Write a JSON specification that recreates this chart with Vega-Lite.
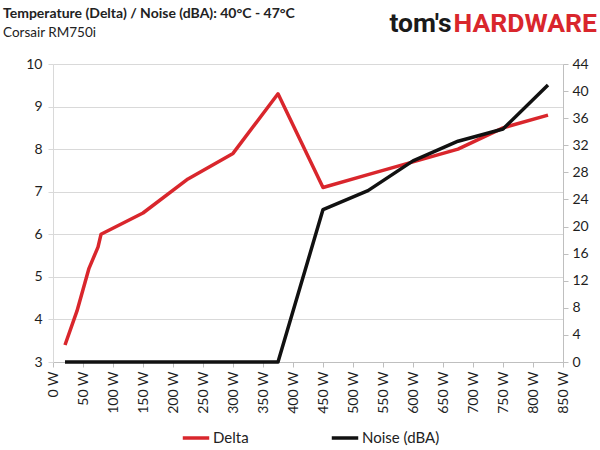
{
  "$schema": "https://vega.github.io/schema/vega-lite/v6.json",
  "autosize": {"type": "none"},
  "width": 510,
  "height": 298,
  "padding": {"left": 53, "top": 64, "right": 37, "bottom": 88},
  "background": "white",
  "config": {
    "font": "Lato",
    "view": {"stroke": null},
    "axis": {"labelFontSize": 14, "labelColor": "#1e1e1e", "labelFont": "Lato"}
  },
  "title": {
    "text": "Temperature (Delta) / Noise (dBA): 40°C - 47°C",
    "subtitle": "Corsair RM750i",
    "anchor": "start",
    "frame": "group",
    "dx": -50,
    "dy": 47,
    "offset": 18,
    "font": "Lato",
    "fontSize": 14,
    "fontWeight": "bold",
    "color": "#222222",
    "subtitleFont": "Lato",
    "subtitleFontSize": 13.5,
    "subtitleColor": "#222222",
    "subtitlePadding": 5
  },
  "data": {
    "values": [
      {"watts": 20, "delta": 3.4, "noise": 0},
      {"watts": 40, "delta": 4.2, "noise": 0},
      {"watts": 60, "delta": 5.2, "noise": 0},
      {"watts": 75, "delta": 5.7, "noise": 0},
      {"watts": 80, "delta": 6.0, "noise": 0},
      {"watts": 150, "delta": 6.5, "noise": 0},
      {"watts": 225, "delta": 7.3, "noise": 0},
      {"watts": 300, "delta": 7.9, "noise": 0},
      {"watts": 375, "delta": 9.3, "noise": 0},
      {"watts": 450, "delta": 7.1, "noise": 22.5},
      {"watts": 525, "delta": 7.4, "noise": 25.3},
      {"watts": 600, "delta": 7.7, "noise": 29.7},
      {"watts": 675, "delta": 8.0, "noise": 32.6},
      {"watts": 750, "delta": 8.5, "noise": 34.4},
      {"watts": 825, "delta": 8.8, "noise": 40.9}
    ]
  },
  "encoding": {
    "x": {
      "field": "watts",
      "type": "quantitative",
      "title": null,
      "scale": {"domain": [0, 850], "nice": false},
      "axis": {
        "values": [0, 50, 100, 150, 200, 250, 300, 350, 400, 450, 500, 550, 600, 650, 700, 750, 800, 850],
        "labelExpr": "datum.value + ' W'",
        "labelAngle": -90,
        "labelAlign": "right",
        "labelBaseline": "middle",
        "labelPadding": 4,
        "grid": false,
        "domainColor": "#bfbfbf",
        "tickColor": "#bfbfbf",
        "tickSize": 5
      }
    }
  },
  "layer": [
    {
      "mark": {"type": "line", "strokeWidth": 3.5, "strokeJoin": "round"},
      "encoding": {
        "y": {
          "field": "delta",
          "type": "quantitative",
          "title": null,
          "scale": {"domain": [3, 10], "nice": false, "zero": false},
          "axis": {
            "values": [3, 4, 5, 6, 7, 8, 9, 10],
            "grid": true,
            "gridColor": "#d9d9d9",
            "domainColor": "#d9d9d9",
            "tickColor": "#d9d9d9",
            "tickSize": 5,
            "labelPadding": 6
          }
        },
        "color": {
          "datum": "Delta",
          "type": "nominal",
          "scale": {"domain": ["Delta", "Noise (dBA)"], "range": ["#d9262c", "#111111"]},
          "legend": {
            "title": null,
            "orient": "none",
            "direction": "horizontal",
            "legendX": 128,
            "legendY": 359,
            "symbolType": "stroke",
            "symbolStrokeWidth": 3.5,
            "symbolSize": 700,
            "labelFont": "Lato",
            "labelFontSize": 15,
            "labelColor": "#222222",
            "labelOffset": 2,
            "columnPadding": 75
          }
        }
      }
    },
    {
      "mark": {"type": "line", "strokeWidth": 3.5, "strokeJoin": "round"},
      "encoding": {
        "y": {
          "field": "noise",
          "type": "quantitative",
          "title": null,
          "scale": {"domain": [0, 44], "nice": false},
          "axis": {
            "orient": "right",
            "values": [0, 4, 8, 12, 16, 20, 24, 28, 32, 36, 40, 44],
            "grid": false,
            "domainColor": "#bfbfbf",
            "tickColor": "#bfbfbf",
            "tickSize": 5,
            "labelPadding": 4
          }
        },
        "color": {"datum": "Noise (dBA)", "type": "nominal"}
      }
    },
    {
      "data": {"values": [{"part": "tom's", "pos": 666, "lvl": 10.76, "side": "a"}, {"part": "HARDWARE", "pos": 666, "lvl": 10.76, "side": "b"}]},
      "layer": [
        {
          "transform": [{"filter": "datum.side === 'a'"}],
          "mark": {"type": "text", "align": "right", "baseline": "alphabetic", "font": "Roboto", "fontSize": 26.5, "fontWeight": "bold", "fill": "#1a1a1a", "dx": -1, "clip": false},
          "encoding": {
            "x": {"field": "pos", "type": "quantitative"},
            "y": {"field": "lvl", "type": "quantitative", "scale": {"domain": [3, 10], "nice": false, "zero": false}, "axis": null},
            "text": {"field": "part"}
          }
        },
        {
          "transform": [{"filter": "datum.side === 'b'"}],
          "mark": {"type": "text", "align": "left", "baseline": "alphabetic", "font": "Roboto", "fontSize": 26.5, "fontWeight": "bold", "fill": "#d9262c", "dx": 1, "clip": false},
          "encoding": {
            "x": {"field": "pos", "type": "quantitative"},
            "y": {"field": "lvl", "type": "quantitative", "scale": {"domain": [3, 10], "nice": false, "zero": false}, "axis": null},
            "text": {"field": "part"}
          }
        }
      ]
    }
  ],
  "resolve": {"scale": {"y": "independent"}}
}
